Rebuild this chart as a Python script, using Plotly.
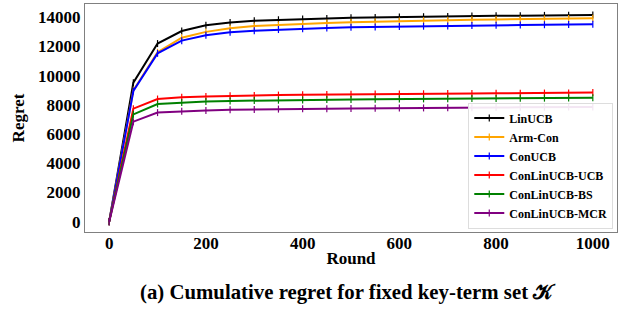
import plotly.graph_objects as go

rounds = [0, 50, 100, 150, 200, 250, 300, 350, 400, 450, 500, 550, 600, 650, 700, 750, 800, 850, 900, 950, 1000]

linucb = [0, 9520, 12200, 13060, 13450, 13650, 13760, 13830, 13880, 13920, 13960, 13990, 14020, 14040, 14060, 14080, 14100, 14110, 14130, 14140, 14160]
armcon = [0, 9000, 11600, 12600, 13000, 13250, 13400, 13480, 13550, 13610, 13660, 13700, 13740, 13770, 13800, 13830, 13850, 13870, 13890, 13910, 13930]
conucb = [0, 8950, 11530, 12400, 12770, 12970, 13080, 13160, 13220, 13270, 13310, 13340, 13370, 13390, 13410, 13430, 13450, 13470, 13490, 13500, 13520]
ucb = [0, 7740, 8400, 8530, 8580, 8620, 8650, 8670, 8690, 8710, 8720, 8740, 8750, 8760, 8770, 8780, 8790, 8800, 8810, 8820, 8840]
bs = [0, 7350, 8060, 8160, 8230, 8270, 8300, 8320, 8340, 8360, 8370, 8390, 8400, 8410, 8420, 8430, 8440, 8450, 8460, 8470, 8490]
mcr = [0, 6850, 7470, 7570, 7620, 7660, 7690, 7710, 7730, 7740, 7750, 7770, 7780, 7790, 7800, 7810, 7820, 7830, 7840, 7850, 7860]

names = ["LinUCB", "Arm-Con", "ConUCB", "ConLinUCB-UCB", "ConLinUCB-BS", "ConLinUCB-MCR"]
series = [linucb, armcon, conucb, ucb, bs, mcr]
colors = ["black", "orange", "blue", "red", "green", "purple"]

fig = go.Figure()
for n, s, c in zip(names, series, colors):
    fig.add_trace(go.Scatter(
        x=rounds, y=s, name="<b>%s</b>" % n, mode="lines+markers",
        line=dict(color=c, width=2),
        marker=dict(symbol="line-ns-open", size=5, color=c, line=dict(color=c, width=1.2)),
    ))

font = "Liberation Serif, Times New Roman, serif"
fig.update_layout(
    width=623, height=312,
    margin=dict(l=85, r=6, t=4, b=80),
    plot_bgcolor="white", paper_bgcolor="white",
    font=dict(family=font, size=17, color="black"),
    showlegend=True,
    legend=dict(
        x=0.993, y=0.015, xanchor="right", yanchor="bottom",
        bgcolor="rgba(255,255,255,0.9)", bordercolor="#dddddd", borderwidth=1,
        font=dict(family=font, size=12, color="black"),
        tracegroupgap=0, itemwidth=30,
    ),
    annotations=[dict(
        text="<b>(a) Cumulative regret for fixed key-term set 𝒦</b>",
        x=0.495, xref="paper", y=-0.265, yref="paper", yanchor="middle", showarrow=False,
        font=dict(family=font, size=20.8, color="black"),
    )],
)

xt = [0, 200, 400, 600, 800, 1000]
fig.update_xaxes(
    range=[-50, 1050], tickvals=xt, ticktext=["<b>%d</b>" % v for v in xt],
    showline=True, linecolor="#808080", linewidth=1.2, mirror=True,
    ticks="", ticklabelstandoff=-5, showgrid=False, zeroline=False,
    title=dict(text="<b>Round</b>", standoff=0, font=dict(family=font, size=17)),
)
yt = [0, 2000, 4000, 6000, 8000, 10000, 12000, 14000]
fig.update_yaxes(
    range=[-710, 14910], tickvals=yt, ticktext=["<b>%d</b>" % v for v in yt],
    showline=True, linecolor="#808080", linewidth=1.2, mirror=True,
    ticks="", showgrid=False, zeroline=False,
    title=dict(text="<b>Regret</b>", standoff=9, font=dict(family=font, size=17)),
)

fig.write_html("out.html", config={"displayModeBar": False},
               post_script="document.body.style.margin='0';document.body.style.overflow='hidden';")
